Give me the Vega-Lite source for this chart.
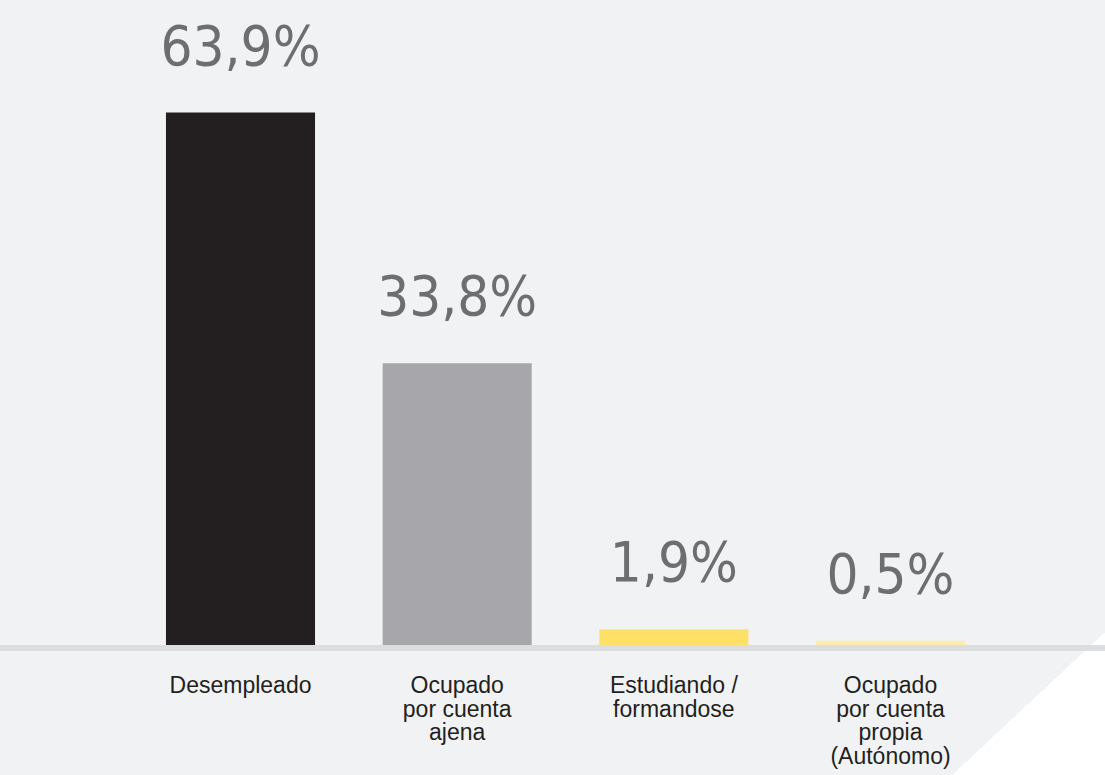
{
  "$schema": "https://vega.github.io/schema/vega-lite/v6.json",
  "width": 1105,
  "height": 775,
  "autosize": {"type": "none"},
  "padding": 0,
  "background": "#f1f2f4",
  "config": {
    "view": {
      "stroke": null,
      "fill": {
        "gradient": "linear",
        "x1": 0, "y1": 0, "x2": 1.1198, "y2": 0.8405,
        "stops": [
          {"offset": 0, "color": "#f1f2f4"},
          {"offset": 0.9209, "color": "#f1f2f4"},
          {"offset": 0.9209, "color": "#ffffff"},
          {"offset": 1, "color": "#ffffff"}
        ]
      }
    }
  },
  "data": {
    "values": [
      {"categoria": "Desempleado", "valor": 63.9, "etiqueta": "63,9%"},
      {"categoria": "Ocupado\npor cuenta\najena", "valor": 33.8, "etiqueta": "33,8%"},
      {"categoria": "Estudiando /\nformandose", "valor": 1.9, "etiqueta": "1,9%"},
      {"categoria": "Ocupado\npor cuenta\npropia\n(Autónomo)", "valor": 0.5, "etiqueta": "0,5%"}
    ]
  },
  "encoding": {
    "x": {
      "field": "categoria",
      "type": "nominal",
      "sort": null,
      "axis": null,
      "scale": {"type": "band", "paddingInner": 0.312, "paddingOuter": 0.706, "align": 0.5425}
    }
  },
  "layer": [
    {
      "mark": {"type": "rule", "color": "#dcdddf", "strokeWidth": 6, "yOffset": 3},
      "encoding": {
        "x": null,
        "y": {"datum": 0, "type": "quantitative", "scale": {"domain": [-15.6, 77.4], "nice": false, "zero": false}, "axis": null}
      }
    },
    {
      "mark": {"type": "bar"},
      "encoding": {
        "y": {"field": "valor", "type": "quantitative", "scale": {"domain": [-15.6, 77.4], "nice": false, "zero": false}, "axis": null},
        "y2": {"datum": 0},
        "color": {
          "field": "categoria",
          "type": "nominal",
          "legend": null,
          "scale": {
            "domain": ["Desempleado", "Ocupado\npor cuenta\najena", "Estudiando /\nformandose", "Ocupado\npor cuenta\npropia\n(Autónomo)"],
            "range": ["#231f20", "#a7a6aa", "#ffe066", "#fdedac"]
          }
        }
      }
    },
    {
      "mark": {"type": "text", "font": "DejaVu Sans Condensed, Roboto, sans-serif", "fontWeight": 200, "fontSize": 56, "color": "#6d6e71", "baseline": "alphabetic", "dy": -48},
      "encoding": {
        "y": {"field": "valor", "type": "quantitative", "scale": {"domain": [-15.6, 77.4], "nice": false, "zero": false}, "axis": null},
        "text": {"field": "etiqueta"}
      }
    },
    {
      "mark": {"type": "text", "font": "Liberation Sans", "fontSize": 23, "color": "#231f20", "baseline": "top", "dy": 30, "lineBreak": "\n", "lineHeight": 23.5},
      "encoding": {
        "y": {"datum": 0, "type": "quantitative", "scale": {"domain": [-15.6, 77.4], "nice": false, "zero": false}, "axis": null},
        "text": {"field": "categoria"}
      }
    }
  ]
}
